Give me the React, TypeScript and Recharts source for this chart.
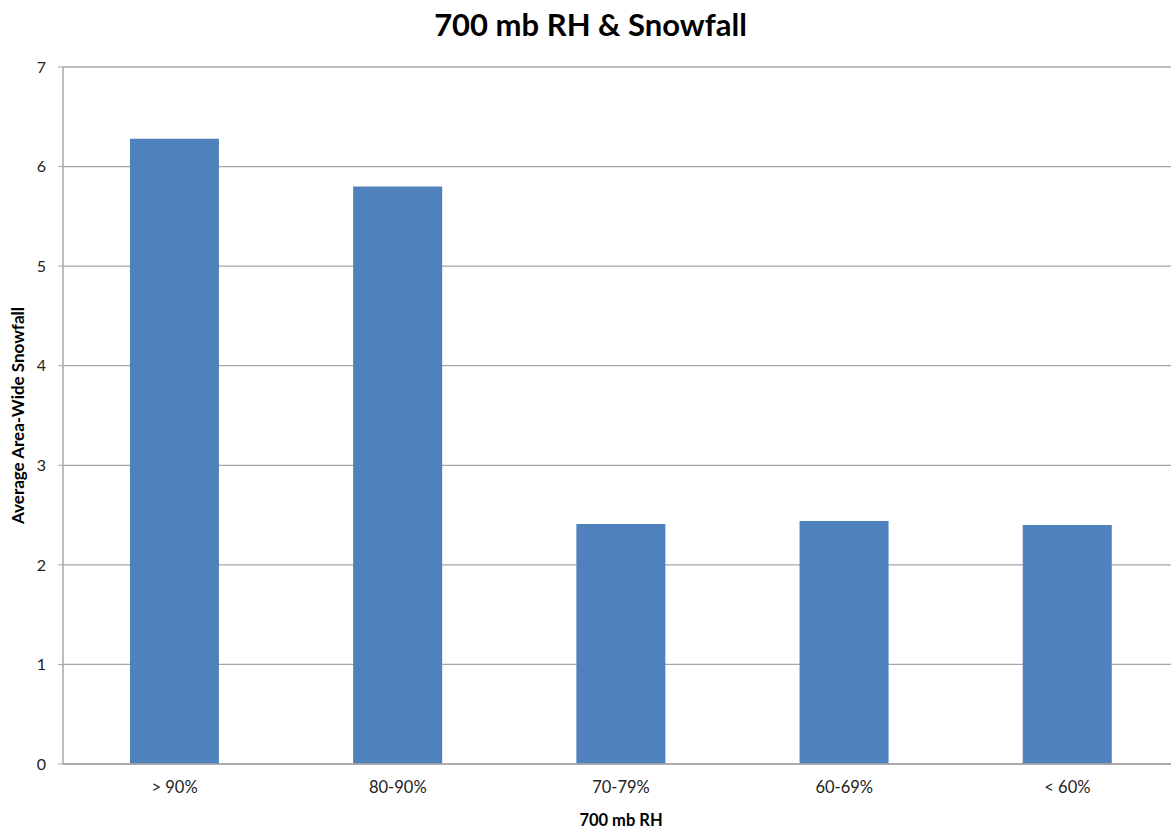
import { BarChart, Bar, XAxis, YAxis, CartesianGrid } from "recharts";

const categories = ["> 90%", "80-90%", "70-79%", "60-69%", "< 60%"];
const snowfall = [6.28, 5.8, 2.41, 2.44, 2.4];
const yTicks = [0, 1, 2, 3, 4, 5, 6, 7];

const data = categories.map((c, i) => ({ name: c, value: snowfall[i] }));

const FONT = "Lato, 'Open Sans', sans-serif";

export default function App() {
  return (
    <div
      style={{
        position: "absolute",
        left: 0,
        top: 0,
        width: 1171,
        height: 829,
        overflow: "hidden",
        background: "#fff",
        fontFamily: FONT,
      }}
    >
      <div
        style={{
          position: "absolute",
          top: 5,
          left: 0,
          width: 1181,
          textAlign: "center",
          fontSize: 31,
          fontWeight: 700,
          color: "#000",
        }}
      >
        700 mb RH &amp; Snowfall
      </div>
      <BarChart
        width={1179}
        height={829}
        data={data}
        margin={{ top: 67, right: 0, bottom: 0, left: 0 }}
        barCategoryGap="30%"
      >
        <CartesianGrid vertical={false} stroke="#a6a6a6" strokeWidth={1.3} />
        <XAxis
          dataKey="name"
          height={65}
          tickLine={false}
          tickSize={0}
          tickMargin={17}
          axisLine={{ stroke: "#a6a6a6", strokeWidth: 1.5 }}
          tick={{ fontSize: 16.5, fill: "#222", fontFamily: FONT }}
          label={{
            value: "700 mb RH",
            position: "insideBottom",
            offset: 3,
            style: { fontSize: 16.5, fontWeight: 700, fill: "#000", fontFamily: FONT },
          }}
        />
        <YAxis
          width={63}
          domain={[0, 7]}
          ticks={yTicks}
          interval={0}
          tickSize={5}
          tickMargin={12}
          tickLine={{ stroke: "#a6a6a6" }}
          axisLine={{ stroke: "#a6a6a6", strokeWidth: 1.5 }}
          tick={{ fontSize: 16, fill: "#222", fontFamily: FONT }}
          label={{
            value: "Average Area-Wide Snowfall",
            angle: -90,
            position: "insideLeft",
            offset: 18,
            style: {
              textAnchor: "middle",
              fontSize: 17,
              fontWeight: 700,
              fill: "#000",
              fontFamily: FONT,
            },
          }}
        />
        <Bar dataKey="value" fill="#4f81bd" isAnimationActive={false} />
      </BarChart>
    </div>
  );
}
